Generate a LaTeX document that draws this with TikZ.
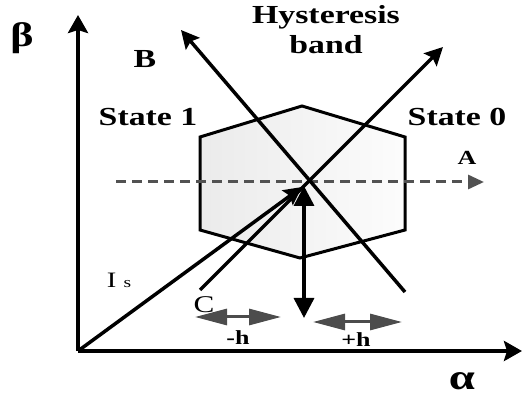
\documentclass[tikz,border=0pt]{standalone}
\usepackage{fontspec}
\setmainfont{Liberation Serif}
\newfontfamily\lblfont[FakeStretch=1.3]{Liberation Serif}
\usetikzlibrary{arrows.meta}

\begin{document}
\begin{tikzpicture}[
      x=1pt, y=-1pt,
      axis/.style={line width=4pt, -{Stealth[length=18pt, width=20pt, inset=3pt]}},
      vec/.style={line width=3.5pt, -{Stealth[length=18pt, width=18pt, inset=3pt]}},
      dbl/.style={line width=3.5pt, {Triangle[length=20pt, width=20pt]}-{Triangle[length=20pt, width=20pt]}},
      bandbox/.style={line width=3pt, draw=black, left color=black!8, right color=black!1},
      hshift/.style={line width=3pt, draw=black!70, {Triangle[length=32pt, width=16pt]}-{Triangle[length=32pt, width=16pt]}},
      guide/.style={line width=3pt, draw=black!68, dash pattern=on 10pt off 6pt, -{Triangle[length=16pt, width=14pt]}},
      lbl/.style={font=\lblfont\bfseries\fontsize{26}{30}\selectfont, inner sep=0pt},
      sml/.style={font=\lblfont\bfseries\fontsize{20}{22}\selectfont, inner sep=0pt}
    ]
    \useasboundingbox (0,0) rectangle (523,398);
    % axes
    \coordinate (O) at (78,351);
    \coordinate (xend) at (522,351);
    \coordinate (yend) at (78,15);
    % hysteresis band corners
    \coordinate (h1) at (200,137);
    \coordinate (h2) at (302,106);
    \coordinate (h3) at (405,137);
    \coordinate (h4) at (405,230);
    \coordinate (h5) at (300,258);
    \coordinate (h6) at (200,230);
    % vectors
    \coordinate (ctr) at (307,182);
    \coordinate (astart) at (116,182);
    \coordinate (aend) at (484,182);
    \coordinate (bstart) at (405,292);
    \coordinate (btip) at (181,30);
    \coordinate (cstart) at (200,290);
    \coordinate (ctip) at (443,47);
    \coordinate (istip) at (302,187);
    \coordinate (vtop) at (304,186);
    \coordinate (vbot) at (304,318);
    \coordinate (mhl) at (195,317);
    \coordinate (mhr) at (281,317);
    \coordinate (phl) at (313,322);
    \coordinate (phr) at (402,322);

    \draw[bandbox] (h1) -- (h2) -- (h3) -- (h4) -- (h5) -- (h6) -- cycle;
    \draw[guide] (astart) -- (aend);
    \draw[axis] (O) -- (yend);
    \draw[axis] (O) -- (xend);
    \draw[vec] (bstart) -- (btip);
    \draw[vec] (cstart) -- (ctip);
    \draw[vec] (O) -- (istip);
    \draw[dbl] (vtop) -- (vbot);
    \draw[hshift] (mhl) -- (mhr);
    \draw[hshift] (phl) -- (phr);

    % labels
    \node[lbl, font=\lblfont\bfseries\fontsize{34}{34}\selectfont] (beta) at (22,38) {β};
    \node[lbl, font=\lblfont\bfseries\fontsize{36}{36}\selectfont] (alpha) at (462,381) {α};
    \node[lbl, align=center, anchor=north] (hyst) at (326,5) {Hysteresis\\band};
    \node[lbl] (lblB) at (145,59) {B};
    \node[lbl] (st1) at (148,117) {State 1};
    \node[lbl] (st0) at (457,117) {State 0};
    \node[sml] (lblA) at (467,158) {A};
    \node[lbl, font=\lblfont\fontsize{22}{22}\selectfont] (lblI) at (119,280) {I\,\,{\fontsize{15}{15}\selectfont s}};
    \node[lbl, font=\lblfont\fontsize{24}{24}\selectfont] (lblC) at (204,305) {C};
    \node[sml] (mh) at (238,338) {-h};
    \node[sml] (ph) at (356,340) {+h};
\end{tikzpicture}
\end{document}
